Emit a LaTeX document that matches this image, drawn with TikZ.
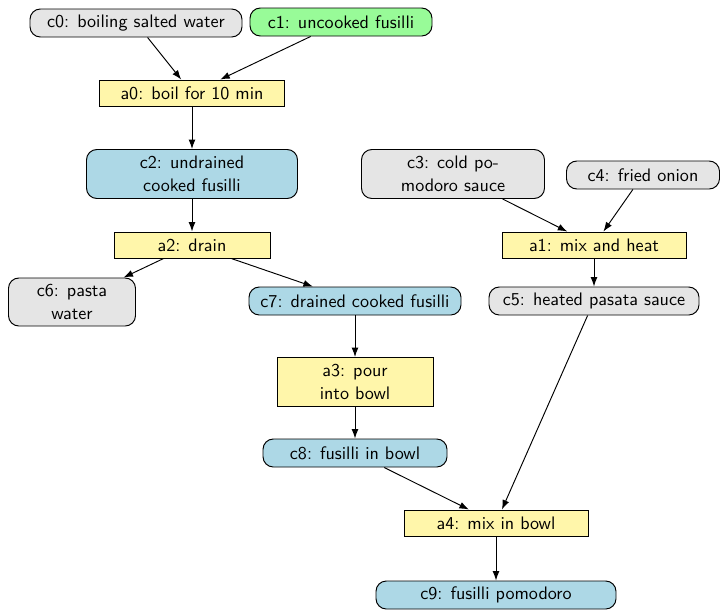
\documentclass[tikz,border=0pt]{standalone}
\usepackage{xcolor}
\usepackage{tikz}
\usetikzlibrary{arrows.meta}

\definecolor{stuffgray}{RGB}{229,229,229}
\definecolor{stuffgreen}{RGB}{152,251,152}
\definecolor{stuffblue}{RGB}{173,216,230}
\definecolor{actyellow}{RGB}{255,246,170}
\newcommand{\pxl}{0.58pt}

\begin{document}
\begin{tikzpicture}[
      x=\pxl, y=-\pxl,
      font=\sffamily\fontsize{10.5}{13}\selectfont,
      stuff/.style={draw, rounded corners=6pt, line width=0.55pt, align=center,
                    minimum height=28*\pxl, inner sep=2pt},
      raw/.style={stuff, fill=stuffgray},
      start/.style={stuff, fill=stuffgreen},
      food/.style={stuff, fill=stuffblue},
      act/.style={draw, line width=0.55pt, fill=actyellow, align=center,
                  minimum height=26*\pxl, inner sep=2pt},
      arrow/.style={-{Latex[length=5.5pt,width=4pt]}, line width=0.55pt}
    ]
      \useasboundingbox (0,0) rectangle (721,610);

      \node[raw, minimum width=212*\pxl] (c0) at (136,23) {c0: boiling salted water};
      \node[start, minimum width=182*\pxl] (c1) at (341,22) {c1: uncooked fusilli};
      \node[act, minimum width=185*\pxl] (a0) at (192,93) {a0: boil for 10 min};
      \node[food, minimum width=211*\pxl, minimum height=49*\pxl] (c2) at (192,174) {c2: undrained\\cooked fusilli};
      \node[raw, minimum width=183*\pxl, minimum height=49*\pxl] (c3) at (453,174) {c3: cold po-\\modoro sauce};
      \node[raw, minimum width=153*\pxl] (c4) at (643,175) {c4: fried onion};
      \node[act, minimum width=184*\pxl] (a1) at (594,245) {a1: mix and heat};
      \node[raw, minimum width=210*\pxl] (c5) at (594,301) {c5: heated pasata sauce};
      \node[act, minimum width=156*\pxl] (a2) at (192,245) {a2: drain};
      \node[raw, minimum width=127*\pxl, minimum height=48*\pxl] (c6) at (72,302) {c6: pasta\\water};
      \node[food, minimum width=212*\pxl] (c7) at (355,301) {c7: drained cooked fusilli};
      \node[act, minimum width=156*\pxl, minimum height=49*\pxl] (a3) at (355,382) {a3: pour\\into bowl};
      \node[food, minimum width=184*\pxl] (c8) at (355,453) {c8: fusilli in bowl};
      \node[act, minimum width=184*\pxl] (a4) at (496,523) {a4: mix in bowl};
      \node[food, minimum width=240*\pxl] (c9) at (496,595) {c9: fusilli pomodoro};

      \draw[arrow] (c0) -- (a0);
      \draw[arrow] (c1) -- (a0);
      \draw[arrow] (a0) -- (c2);
      \draw[arrow] (c2) -- (a2);
      \draw[arrow] (a2) -- (c6);
      \draw[arrow] (a2) -- (c7);
      \draw[arrow] (c3) -- (a1);
      \draw[arrow] (c4) -- (a1);
      \draw[arrow] (a1) -- (c5);
      \draw[arrow] (c7) -- (a3);
      \draw[arrow] (a3) -- (c8);
      \draw[arrow] (c8) -- (a4);
      \draw[arrow] (c5) -- (a4);
      \draw[arrow] (a4) -- (c9);
    \end{tikzpicture}
\end{document}
